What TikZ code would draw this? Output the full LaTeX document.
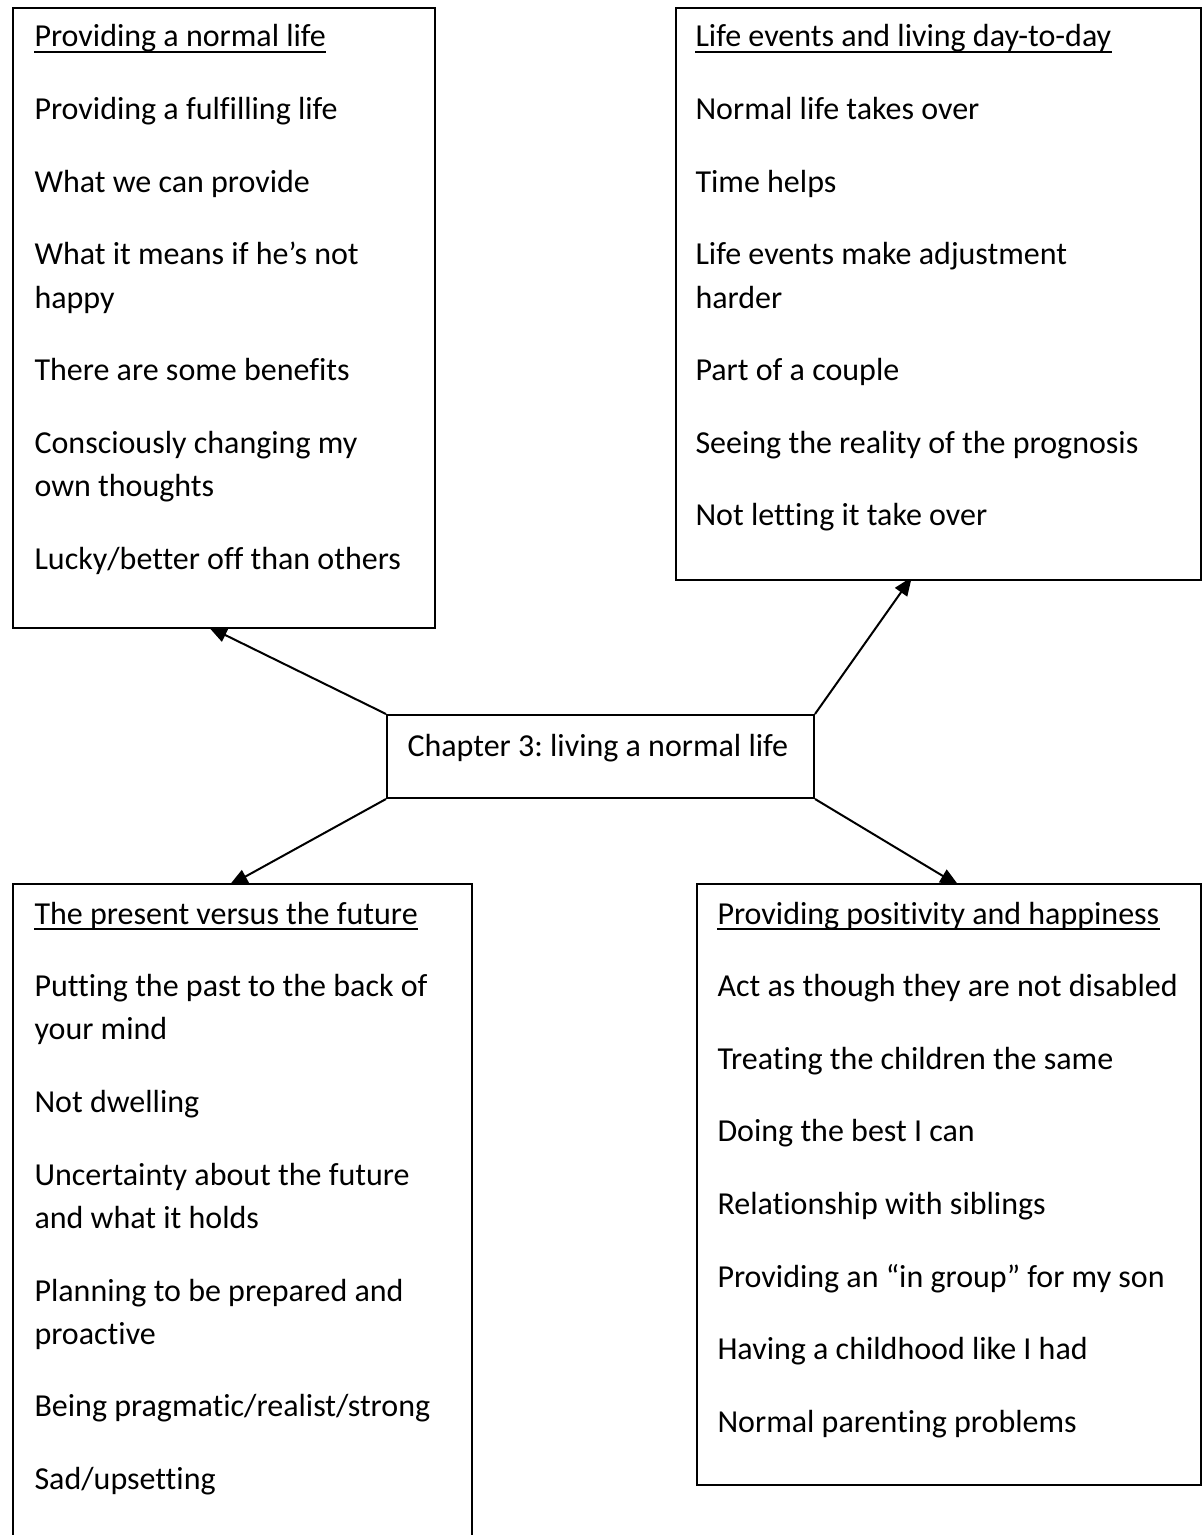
\documentclass[tikz,border=0pt]{standalone}
\usepackage{fontspec}
\setmainfont{Carlito}[Ligatures=NoCommon]
\usetikzlibrary{arrows.meta,calc,backgrounds}
\frenchspacing
\begin{document}
\begin{tikzpicture}[x=0.375pt,y=-0.375pt,
  box/.style={draw,fill=white,line width=0.75pt,rectangle,inner sep=0pt,anchor=north west},
  txt/.style={anchor=base west,inner sep=0pt,font=\fontsize{12}{14}\selectfont},
  uline/.style={line width=0.75pt},
  arr/.style={line width=0.75pt,-{Triangle[length=7pt,width=5.5pt]}}]
\useasboundingbox (0,0) rectangle (1202,1535);
\clip (0,0) rectangle (1202,1535);
% boxes
\node[box,minimum width=158.25pt,minimum height=232.5pt] (tl) at (12,7) {};
\node[box,minimum width=196.875pt,minimum height=214.5pt] (tr) at (675,7) {};
\node[box,minimum width=160.125pt,minimum height=31.125pt] (c) at (386,714) {};
\node[box,minimum width=172.125pt,minimum height=253.875pt] (bl) at (12,883) {};
\node[box,minimum width=189pt,minimum height=225.375pt] (br) at (696,883) {};
% centre text
\node[txt] (ct) at (407,756) {Chapter 3: living a normal life};
% top-left
\node[txt] (tl0) at (34,47) {Providing a normal life};
\node[txt] (tl1) at (34,119.6) {Providing a fulfilling life};
\node[txt] (tl2) at (34,192.2) {What we can provide};
\node[txt] (tl3) at (34,264.8) {What it means if he’s not};
\node[txt] (tl3b) at (34,308.1) {happy};
\node[txt] (tl4) at (34,380.7) {There are some benefits};
\node[txt] (tl5) at (34,453.3) {Consciously changing my};
\node[txt] (tl5b) at (34,496.6) {own thoughts};
\node[txt] (tl6) at (34,569.2) {Lucky/better off than others};
% top-right
\node[txt] (tr0) at (695,47) {Life events and living day-to-day};
\node[txt] (tr1) at (695,119.6) {Normal life takes over};
\node[txt] (tr2) at (695,192.2) {Time helps};
\node[txt] (tr3) at (695,264.8) {Life events make adjustment};
\node[txt] (tr3b) at (695,308.1) {harder};
\node[txt] (tr4) at (695,380.7) {Part of a couple};
\node[txt] (tr5) at (695,453.3) {Seeing the reality of the prognosis};
\node[txt] (tr6) at (695,525.9) {Not letting it take over};
% bottom-left
\node[txt] (bl0) at (34,924) {The present versus the future};
\node[txt] (bl1) at (34,996.6) {Putting the past to the back of};
\node[txt] (bl1b) at (34,1039.9) {your mind};
\node[txt] (bl2) at (34,1112.5) {Not dwelling};
\node[txt] (bl3) at (34,1185.1) {Uncertainty about the future};
\node[txt] (bl3b) at (34,1228.4) {and what it holds};
\node[txt] (bl4) at (34,1301) {Planning to be prepared and};
\node[txt] (bl4b) at (34,1344.3) {proactive};
\node[txt] (bl5) at (34,1416.9) {Being pragmatic/realist/strong};
\node[txt] (bl6) at (34,1489.5) {Sad/upsetting};
% bottom-right
\node[txt] (br0) at (717,924) {Providing positivity and happiness};
\node[txt] (br1) at (717,996.6) {Act as though they are not disabled};
\node[txt] (br2) at (717,1069.2) {Treating the children the same};
\node[txt] (br3) at (717,1141.8) {Doing the best I can};
\node[txt] (br4) at (717,1214.4) {Relationship with siblings};
\node[txt] (br5) at (717,1287) {Providing an “in group” for my son};
\node[txt] (br6) at (717,1359.6) {Having a childhood like I had};
\node[txt] (br7) at (717,1432.2) {Normal parenting problems};
% underlines
\foreach \h in {tl0,tr0,bl0,br0}
  \draw[uline] ([yshift=-1.9pt]\h.base west) -- ([yshift=-1.9pt]\h.base east);
% arrow end points
\coordinate (tlTip) at ($(tl.south west)!0.474!(tl.south east)$);
\coordinate (trTip) at ($(tr.south west)!0.444!(tr.south east)$);
\coordinate (blTip) at ($(bl.north west)!0.481!(bl.north east)$);
\coordinate (brTip) at ($(br.north west)!0.511!(br.north east)$);
\begin{pgfonlayer}{background}
\draw[arr] (c.north west) -- ($(c.north west)!1.026!(tlTip)$);
\draw[arr] (c.north east) -- ($(c.north east)!1.03!(trTip)$);
\draw[arr] (c.south west) -- ($(c.south west)!1.03!(blTip)$);
\draw[arr] (c.south east) -- ($(c.south east)!1.03!(brTip)$);
\end{pgfonlayer}
\end{tikzpicture}
\end{document}
